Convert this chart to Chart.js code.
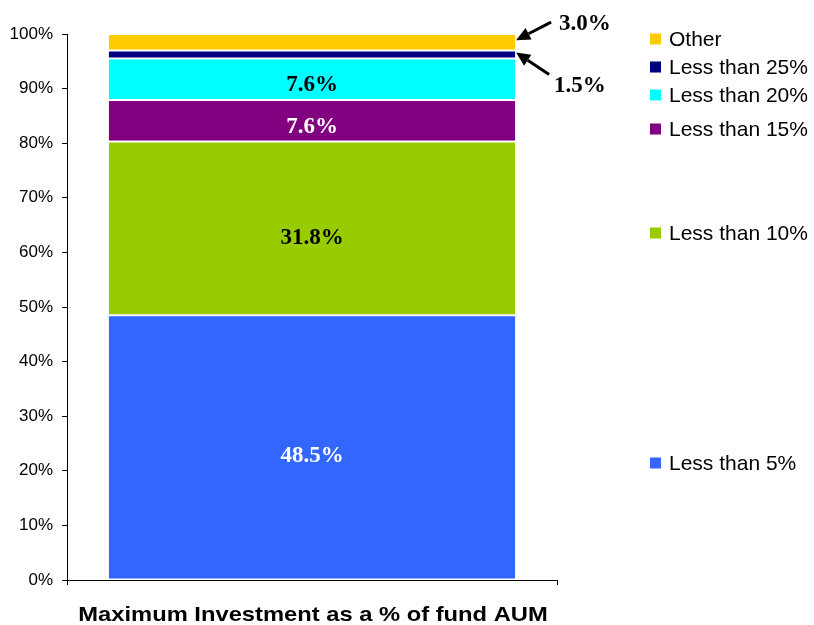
<!DOCTYPE html>
<html>
<head>
<meta charset="utf-8">
<script src="https://cdn.jsdelivr.net/npm/chart.js@4.4.1/dist/chart.umd.min.js"></script>
<style>
  html, body { margin: 0; padding: 0; background: #fff; }
  #wrap { width: 814px; height: 625px; position: relative; }
</style>
</head>
<body>
<div id="wrap"><canvas id="c" width="814" height="625"></canvas></div>
<script>
// ---- data ----
const categories = ['Maximum Investment as a % of fund AUM'];
const seriesNames = ['Less than 5%', 'Less than 10%', 'Less than 15%', 'Less than 20%', 'Less than 25%', 'Other'];
const seriesValues = [48.5, 31.8, 7.6, 7.6, 1.5, 3.0];
const seriesLabels = ['48.5%', '31.8%', '7.6%', '7.6%', '1.5%', '3.0%'];
const yTickValues = [0, 10, 20, 30, 40, 50, 60, 70, 80, 90, 100];

// ---- styles ----
const seriesColors = ['#3366FF', '#99CC00', '#800080', '#00FFFF', '#000080', '#FFCC00'];
const labelColors = ['#FFFFFF', '#000000', '#FFFFFF', '#000000', null, null];
const labelDy = [9, 10, 6, 6, 0, 0];
const legendY = [463, 233, 129, 95, 67, 39];
const arrowSeries = [5, 4]; // indexes labelled with arrows
const arrowCfg = {
  5: { tipDy: -2, tailDx: 35, tailDy: -18, textDx: 43, textDy: -16 },
  4: { tipDy: -2, tailDx: 33, tailDy: 22, textDx: 38, textDy: 34 }
};

const datasets = seriesNames.map((name, i) => ({
  label: name,
  data: [seriesValues[i]],
  backgroundColor: seriesColors[i],
  borderColor: '#FFFFFF',
  borderWidth: 1,
  borderSkipped: false,
  barPercentage: 0.833,
  categoryPercentage: 1.0
}));

const sansFont = '"Liberation Sans", Arial, sans-serif';
const serifFont = '"Liberation Serif", "Times New Roman", serif';

const overlay = {
  id: 'overlay',
  afterDatasetsDraw(chart) {
    const ctx = chart.ctx;
    ctx.save();
    // segment labels
    ctx.font = 'bold 23px ' + serifFont;
    ctx.textAlign = 'center';
    ctx.textBaseline = 'middle';
    chart.data.datasets.forEach((ds, i) => {
      if (!labelColors[i]) return;
      const el = chart.getDatasetMeta(i).data[0];
      const p = el.getProps(['x', 'y', 'base'], true);
      ctx.fillStyle = labelColors[i];
      ctx.fillText(seriesLabels[i], p.x, (p.y + p.base) / 2 + labelDy[i]);
    });
    // arrows
    arrowSeries.forEach(i => {
      const el = chart.getDatasetMeta(i).data[0];
      const p = el.getProps(['x', 'y', 'base', 'width'], true);
      const c = arrowCfg[i];
      const tipX = p.x + p.width / 2;
      const tipY = (p.y + p.base) / 2 + c.tipDy;
      const tailX = tipX + c.tailDx, tailY = tipY + c.tailDy;
      const ang = Math.atan2(tipY - tailY, tipX - tailX);
      const head = 14, hw = 6.5;
      const bx = tipX - head * Math.cos(ang), by = tipY - head * Math.sin(ang);
      ctx.strokeStyle = '#000';
      ctx.lineWidth = 3;
      ctx.beginPath();
      ctx.moveTo(tailX, tailY);
      ctx.lineTo(bx, by);
      ctx.stroke();
      ctx.fillStyle = '#000';
      ctx.beginPath();
      ctx.moveTo(tipX, tipY);
      ctx.lineTo(bx + hw * Math.sin(ang), by - hw * Math.cos(ang));
      ctx.lineTo(bx - hw * Math.sin(ang), by + hw * Math.cos(ang));
      ctx.closePath();
      ctx.fill();
      ctx.font = 'bold 23px ' + serifFont;
      ctx.textAlign = 'left';
      ctx.textBaseline = 'middle';
      ctx.fillText(seriesLabels[i], tipX + c.textDx, tipY + c.textDy);
    });
    // legend
    ctx.font = '21px ' + sansFont;
    ctx.textAlign = 'left';
    ctx.textBaseline = 'middle';
    seriesNames.forEach((name, i) => {
      const y = legendY[i];
      ctx.fillStyle = seriesColors[i];
      ctx.fillRect(650, y - 5.5, 11, 11);
      ctx.fillStyle = '#000';
      ctx.fillText(name, 669, y + 1);
    });
    // x axis title (horizontally stretched like the original)
    const xs = chart.scales.x;
    ctx.font = 'bold 21px ' + sansFont;
    ctx.textAlign = 'center';
    ctx.textBaseline = 'alphabetic';
    ctx.translate((xs.left + xs.right) / 2 + 1, 621);
    ctx.scale(1.13, 1);
    ctx.fillText(categories[0], 0, 0);
    ctx.restore();
  }
};

new Chart(document.getElementById('c'), {
  type: 'bar',
  data: { labels: categories, datasets },
  options: {
    responsive: false,
    animation: false,
    layout: { padding: { top: 34, right: 257, left: 0, bottom: 0 } },
    plugins: { legend: { display: false }, tooltip: { enabled: false } },
    scales: {
      x: {
        stacked: true,
        offset: true,
        ticks: { display: false },
        grid: { offset: true, drawOnChartArea: false, drawTicks: true, tickLength: 5, color: '#000', tickColor: '#000' },
        border: { display: true, color: '#000', width: 1 },
        afterFit(s) { s.height = 45; }
      },
      y: {
        stacked: true,
        min: 0,
        max: 100,
        afterBuildTicks(s) { s.ticks = yTickValues.map(v => ({ value: v })); },
        ticks: {
          padding: 9,
          color: '#000',
          font: { family: sansFont, size: 17 },
          callback: v => v + '%'
        },
        grid: { drawOnChartArea: false, drawTicks: true, tickLength: 5, color: '#000', tickColor: '#000' },
        border: { display: true, color: '#000', width: 1 },
        afterFit(s) { s.width = 67; }
      }
    }
  },
  plugins: [overlay]
});
</script>
</body>
</html>
